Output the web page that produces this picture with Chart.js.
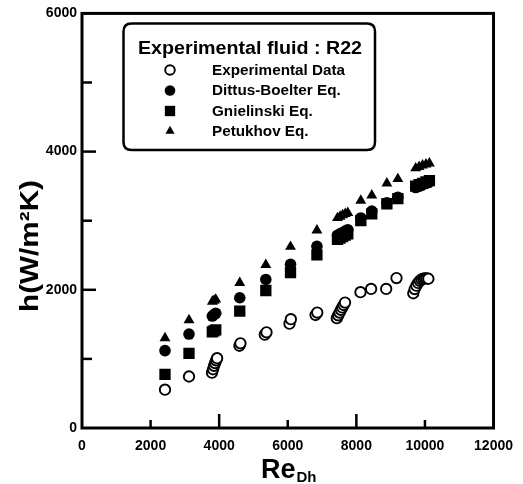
<!DOCTYPE html>
<html><head><meta charset="utf-8">
<script src="https://cdn.jsdelivr.net/npm/chart.js@4"></script>
<style>html,body{margin:0;padding:0;background:#fff;overflow:hidden}#wrap{width:523px;height:484px}</style>
</head><body><div id="wrap"><canvas id="c" width="523" height="484"></canvas></div>
<script>
// ---- data ----
const reExp = [2420, 3120, 3790, 3820, 3850, 3880, 3910, 3940, 4590, 4620, 5330, 5380, 6050, 6090, 6810, 6860,
  7430, 7470, 7510, 7550, 7590, 7630, 7670, 8120, 8430, 8870, 9170,
  9660, 9700, 9750, 9800, 9850, 9900, 9950, 10000, 10050, 10100];
const hExp = [555, 745, 800, 850, 900, 940, 980, 1010, 1190, 1225, 1350, 1385, 1510, 1575, 1635, 1670,
  1590, 1630, 1670, 1710, 1745, 1780, 1815, 1965, 2012, 2012, 2170,
  1950, 2010, 2060, 2100, 2130, 2150, 2160, 2165, 2165, 2160];
const rePred = [2420, 3120, 3800, 3850, 3900, 4600, 5360, 6080, 6850, 7450, 7525, 7600, 7675, 7750,
  8130, 8450, 8890, 9210, 9730, 9830, 9930, 10030, 10130];
const hDittus = [1120, 1360, 1620, 1640, 1660, 1885, 2150, 2370, 2630, 2790, 2810, 2830, 2850, 2870,
  3040, 3140, 3260, 3340, 3480, 3500, 3520, 3540, 3560];
const hGnielinski = [775, 1080, 1390, 1405, 1420, 1692, 1990, 2250, 2505, 2730, 2750, 2770, 2790, 2810,
  3000, 3100, 3245, 3320, 3500, 3520, 3540, 3560, 3580];
const hPetukhov = [1300, 1563, 1830, 1845, 1860, 2100, 2362, 2624, 2860, 3040, 3060, 3080, 3100, 3115,
  3290, 3366, 3540, 3604, 3760, 3780, 3800, 3815, 3830];
const xTickValues = [0, 2000, 4000, 6000, 8000, 10000, 12000];
const yTickValues = [0, 2000, 4000, 6000];
const legendTitle = 'Experimental fluid : R22';
const seriesNames = ['Experimental Data', 'Dittus-Boelter Eq.', 'Gnielinski Eq.', 'Petukhov Eq.'];
const yTitle = 'h(W/m\u00B2K)';
const xTitleMain = 'Re', xTitleSub = 'Dh';

const FONT = '"Liberation Sans", Arial, sans-serif';
const pts = (xs, ys) => xs.map((x, i) => ({x, y: ys[i]}));

function drawStretched(ctx, txt, x, y, s, align) {
  const w = ctx.measureText(txt).width;
  ctx.save();
  ctx.translate(x, y);
  ctx.scale(s, 1);
  ctx.textAlign = 'left';
  ctx.fillText(txt, align === 'center' ? -w / 2 : 0, 0);
  ctx.restore();
}

const decor = {
  id: 'decor',
  afterDraw(chart) {
    const ctx = chart.ctx, xs = chart.scales.x, ys = chart.scales.y, a = chart.chartArea;
    ctx.save();
    ctx.strokeStyle = '#000'; ctx.fillStyle = '#000';
    // frame
    ctx.lineWidth = 3;
    ctx.strokeRect(a.left, a.top, a.right - a.left, a.bottom - a.top);
    // inner ticks
    ctx.lineWidth = 2.5;
    for (let v = 2000; v < 12000; v += 2000) {
      const px = xs.getPixelForValue(v);
      const len = (v % 4000 === 0) ? 14 : 8;
      ctx.beginPath(); ctx.moveTo(px, a.bottom); ctx.lineTo(px, a.bottom - len); ctx.stroke();
    }
    for (let v = 1000; v < 6000; v += 1000) {
      const py = ys.getPixelForValue(v);
      const len = (v % 2000 === 0) ? 14 : 10;
      ctx.beginPath(); ctx.moveTo(a.left, py); ctx.lineTo(a.left + len, py); ctx.stroke();
    }
    // x axis title with subscript
    ctx.textBaseline = 'alphabetic';
    ctx.font = 'bold 27px ' + FONT;
    ctx.textAlign = 'left';
    ctx.fillText(xTitleMain, 261, 478);
    const rw = ctx.measureText(xTitleMain).width;
    ctx.font = 'bold 15px ' + FONT;
    ctx.fillText(xTitleSub, 261 + rw + 1, 482);
    // y axis title (rotated)
    ctx.save();
    ctx.translate(38, 246);
    ctx.rotate(-Math.PI / 2);
    ctx.font = 'bold 26px ' + FONT;
    const yw = ctx.measureText(yTitle).width;
    drawStretched(ctx, yTitle, 0, 0, 132 / yw, 'center');
    ctx.restore();
    // legend box
    const L = 123.5, T = 23.5, R = 375, B = 150, r = 8;
    ctx.lineWidth = 2.5;
    ctx.beginPath();
    ctx.moveTo(L + r, T); ctx.lineTo(R - r, T); ctx.quadraticCurveTo(R, T, R, T + r);
    ctx.lineTo(R, B - r); ctx.quadraticCurveTo(R, B, R - r, B);
    ctx.lineTo(L + r, B); ctx.quadraticCurveTo(L, B, L, B - r);
    ctx.lineTo(L, T + r); ctx.quadraticCurveTo(L, T, L + r, T);
    ctx.stroke();
    ctx.textBaseline = 'middle';
    ctx.font = 'bold 18px ' + FONT;
    drawStretched(ctx, legendTitle, 250, 49, 224 / ctx.measureText(legendTitle).width, 'center');
    ctx.font = 'bold 14px ' + FONT;
    const s = 133 / ctx.measureText(seriesNames[0]).width;
    const rows = [70, 90.5, 111, 131];
    chart.data.datasets.forEach((ds, i) => {
      const y = rows[i];
      ctx.save();
      ctx.fillStyle = ds.backgroundColor; ctx.strokeStyle = ds.borderColor; ctx.lineWidth = ds.borderWidth;
      Chart.helpers.drawPoint(ctx, {pointStyle: ds.pointStyle, radius: ds.legendRadius, borderWidth: ds.borderWidth, rotation: 0}, 170, y);
      ctx.restore();
      ctx.fillStyle = '#000';
      drawStretched(ctx, seriesNames[i], 212, y + 1, s, 'left');
    });
    ctx.restore();
  }
};

new Chart(document.getElementById('c'), {
  type: 'scatter',
  data: {
    datasets: [
      {label: seriesNames[0], data: pts(reExp, hExp), pointStyle: 'circle', pointRadius: 5.2, legendRadius: 4.8,
        backgroundColor: '#ffffff', borderColor: '#000', borderWidth: 1.9},
      {label: seriesNames[1], data: pts(rePred, hDittus), pointStyle: 'circle', pointRadius: 5.8, legendRadius: 5.3,
        backgroundColor: '#000', borderColor: '#000', borderWidth: 0},
      {label: seriesNames[2], data: pts(rePred, hGnielinski), pointStyle: 'rect', pointRadius: 8, legendRadius: 7.3,
        backgroundColor: '#000', borderColor: '#000', borderWidth: 0},
      {label: seriesNames[3], data: pts(rePred, hPetukhov), pointStyle: 'triangle', pointRadius: 6.3, legendRadius: 5.3,
        backgroundColor: '#000', borderColor: '#000', borderWidth: 0}
    ]
  },
  options: {
    responsive: false, animation: false, events: [],
    layout: {padding: {left: 0, right: 20, top: 11, bottom: 0}},
    plugins: {legend: {display: false}, tooltip: {enabled: false}},
    scales: {
      x: {type: 'linear', min: 0, max: 12000,
        afterBuildTicks(s) { s.ticks = xTickValues.map(v => ({value: v})); },
        afterFit(s) { s.height = 56; },
        ticks: {color: '#000', padding: 10, maxRotation: 0, autoSkip: false, callback: v => String(v),
          font: {family: FONT, weight: 'bold', size: 14}},
        grid: {display: false, drawTicks: false}, border: {display: false}},
      y: {type: 'linear', min: 0, max: 6000,
        afterBuildTicks(s) { s.ticks = yTickValues.map(v => ({value: v})); },
        afterFit(s) { s.width = 82; },
        ticks: {color: '#000', padding: 5, autoSkip: false, callback: v => String(v),
          font: {family: FONT, weight: 'bold', size: 14}},
        grid: {display: false, drawTicks: false}, border: {display: false}}
    }
  },
  plugins: [decor]
});
</script>
</body></html>
